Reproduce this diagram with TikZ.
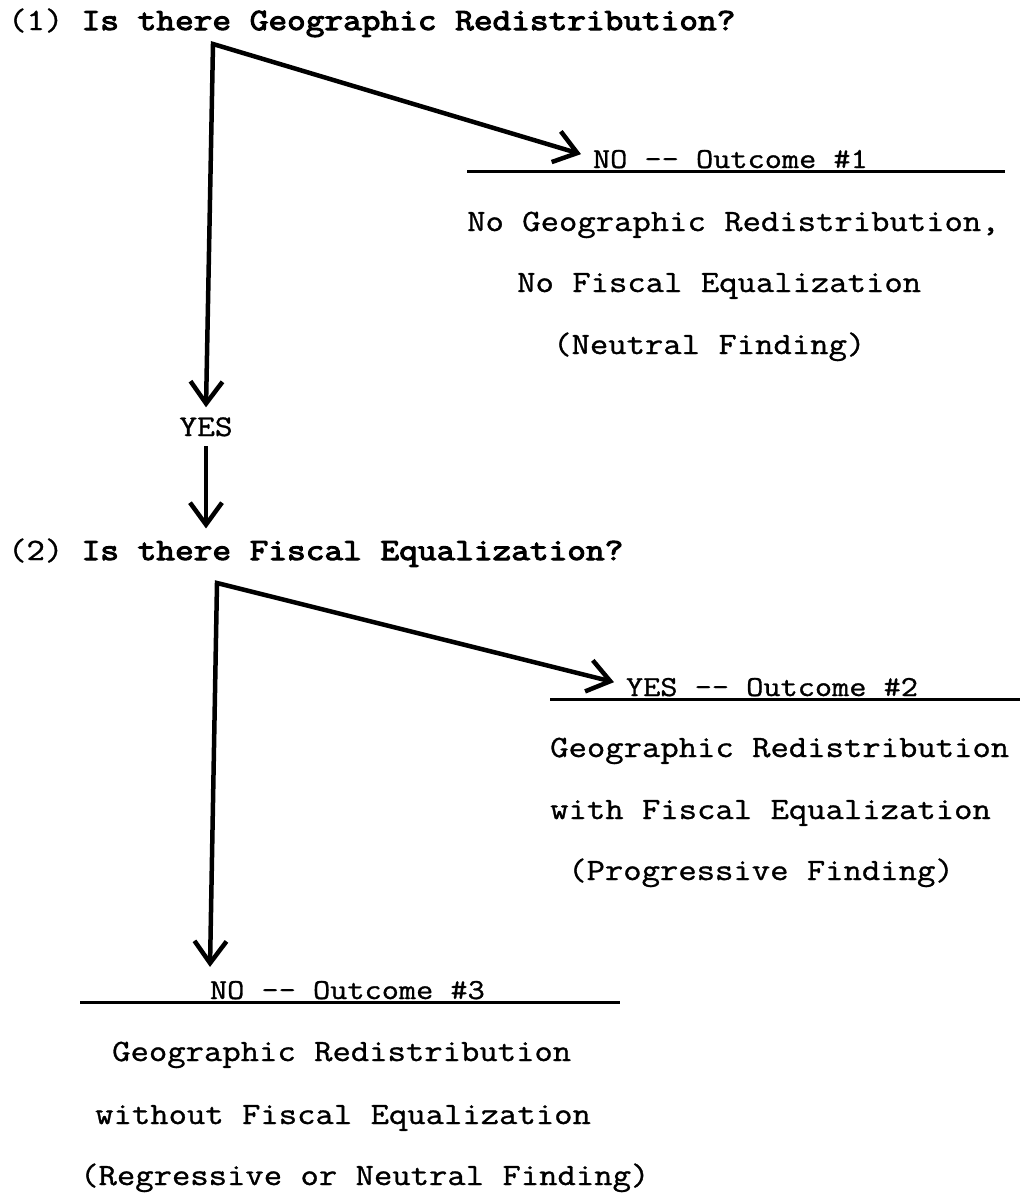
\documentclass[tikz,border=0pt]{standalone}
\usepackage{fontspec}
\newfontfamily\bodyfont{Latin Modern Mono}[FakeStretch=1.15, FakeBold=1]
\newfontfamily\headfont{Latin Modern Mono}[FakeStretch=1.17, FakeBold=3.5]
\usetikzlibrary{arrows.meta}
\def\barb{Straight Barb[length=22pt,width=32pt,line width=4.5pt]}
\tikzset{
	head/.style={anchor=base west, inner sep=0pt, outer ysep=10pt, font=\bodyfont\fontsize{31}{31}\selectfont},
	answer/.style={anchor=base, inner sep=0pt, outer ysep=10pt, font=\bodyfont\fontsize{30}{30}\selectfont},
	outlabel/.style={anchor=base west, inner sep=0pt, outer xsep=12pt, outer ysep=14pt, font=\bodyfont\fontsize{29}{29}\selectfont},
	outtext/.style={anchor=base west, inner sep=0pt, font=\bodyfont\fontsize{31}{31}\selectfont},
	branch/.style={line width=4.5pt, line join=miter, -{\barb}},
	fork/.style={line width=4.5pt, line join=miter, {\barb}-{\barb}},
	rulel/.style={line width=3pt}
}

\begin{document}
\begin{tikzpicture}[x=1pt, y=-1pt]
			%%%%% START %%%%%
			\useasboundingbox (0,0) rectangle (1025,1194);
			
			% question 1
			\node[head] (q1) at (8,30) {(1) {\headfont Is there Geographic Redistribution?}};
			\coordinate (c1) at (213,44);
			
			\node[outlabel] (o1) at (581,168) {NO -- Outcome \#1};
			\coordinate (r1a) at (467,171);
			\coordinate (r1b) at (1005,171);
			\draw[rulel] (r1a) -- (r1b);
			\node[outtext] (o1l1) at (467,231) {No Geographic Redistribution,};
			\node[outtext] (o1l2) at (517,292) {No Fiscal Equalization};
			\node[outtext] (o1l3) at (553,354) {(Neutral Finding)};
			
			\node[answer] (yes1) at (206,436) {YES};
			\draw[fork] (yes1.north) -- (c1) -- ([yshift=5pt]o1.west);
			
			% question 2
			\node[head] (q2) at (8,560) {(2) {\headfont Is there Fiscal Equalization?}};
			\draw[branch] (yes1.south) -- (yes1.south |- q2.north);
			\coordinate (c2) at (217,583);
			
			\node[outlabel] (o2) at (614,696) {YES -- Outcome \#2};
			\coordinate (r2a) at (550,699);
			\coordinate (r2b) at (1020,699);
			\draw[rulel] (r2a) -- (r2b);
			\node[outtext] (o2l1) at (550,757) {Geographic Redistribution};
			\node[outtext] (o2l2) at (550,819) {with Fiscal Equalization};
			\node[outtext] (o2l3) at (568,880) {(Progressive Finding)};
			
			\node[outlabel, outer xsep=0pt] (o3) at (210,999) {NO -- Outcome \#3};
			\coordinate (r3a) at (80,1002);
			\coordinate (r3b) at (620,1002);
			\draw[rulel] (r3a) -- (r3b);
			\node[outtext] (o3l1) at (112,1061) {Geographic Redistribution};
			\node[outtext] (o3l2) at (95,1124) {without Fiscal Equalization};
			\node[outtext] (o3l3) at (80,1185) {(Regressive or Neutral Finding)};
			
			\draw[fork] (o3.north west) -- (c2) -- ([yshift=5pt]o2.west);
			%%%%% END %%%%%
\end{tikzpicture}
\end{document}
